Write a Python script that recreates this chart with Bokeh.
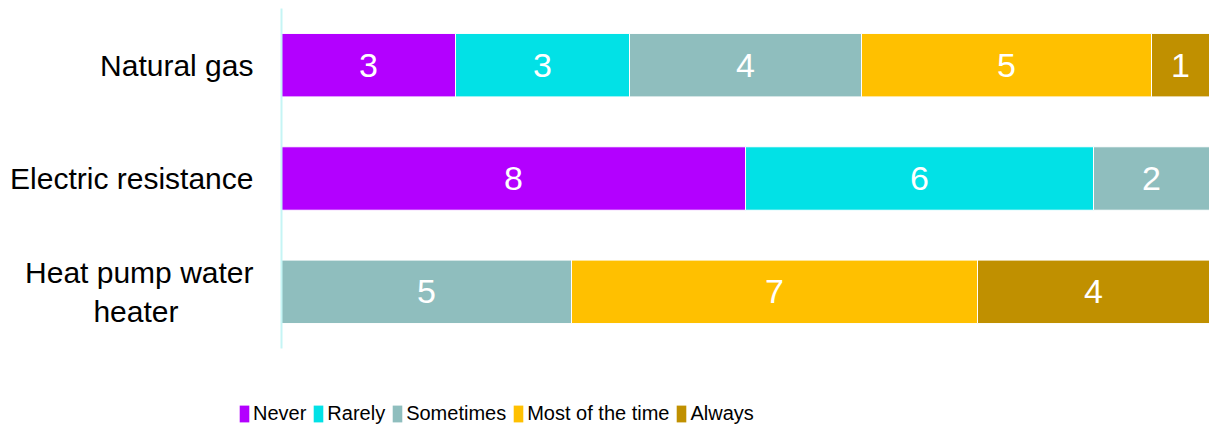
from bokeh.plotting import figure
from bokeh.models import Range1d, FactorRange, ColumnDataSource, Legend, LegendItem
from bokeh.layouts import column
from bokeh.core.properties import value
from bokeh.embed import file_html
from bokeh.resources import INLINE

categories = ["Natural gas", "Electric resistance",
              "Heat pump water\nheater\u00a0\u00a0\u00a0\u00a0\u00a0\u00a0\u00a0\u00a0\u00a0"]
series = ["Never", "Rarely", "Sometimes", "Most of the time", "Always"]
never = [3, 8, 0]
rarely = [3, 6, 0]
sometimes = [4, 2, 5]
most = [5, 0, 7]
always = [1, 0, 4]
colors = ["#b300ff", "#02e1e6", "#8fbebe", "#ffc000", "#c09000"]

values = [never, rarely, sometimes, most, always]

p = figure(width=1209, height=370, output_backend="svg", toolbar_location=None,
           x_range=Range1d(0, 16), y_range=FactorRange(*reversed(categories)),
           min_border_left=281, min_border_right=0, min_border_top=8, min_border_bottom=22)
p.outline_line_color = None
p.xgrid.visible = False
p.ygrid.visible = False
p.xaxis.visible = False

font = value("Liberation Sans")
cum = [0] * len(categories)
for name, vals, col in zip(series, values, colors):
    lefts, rights, ys, mids, txt = [], [], [], [], []
    for i, c in enumerate(categories):
        if vals[i] > 0:
            lefts.append(cum[i])
            rights.append(cum[i] + vals[i])
            mids.append(cum[i] + vals[i] / 2)
            ys.append(c)
            txt.append(str(vals[i]))
        cum[i] += vals[i]
    src = ColumnDataSource(dict(left=lefts, right=rights, y=ys, mid=mids, txt=txt))
    p.hbar(y="y", left="left", right="right", height=0.56, source=src,
           fill_color=col, line_color="white", line_width=1)
    p.text(x="mid", y="y", text="txt", source=src, text_color="white",
           text_font=font, text_font_size="34px", text_align="center",
           text_baseline="middle")

ax = p.yaxis[0]
ax.axis_line_color = "#c5f5f5"
ax.axis_line_width = 2
ax.major_tick_line_color = None
ax.minor_tick_line_color = None
ax.major_tick_out = 0
ax.major_label_standoff = 28
ax.major_label_text_font = "Liberation Sans"
ax.major_label_text_font_size = "30px"
ax.major_label_text_color = "#000000"

# legend strip (its frame is not aligned with the chart's frame)
p2 = figure(width=1209, height=65, output_backend="svg", toolbar_location=None,
            x_range=Range1d(0, 1), y_range=Range1d(0, 1),
            min_border_left=0, min_border_right=0, min_border_top=0, min_border_bottom=0)
p2.frame_align = False
p.frame_align = False
p2.outline_line_color = None
p2.xgrid.visible = False
p2.ygrid.visible = False
p2.xaxis.visible = False
p2.yaxis.visible = False
items = []
for name, col in zip(series, colors):
    # placeholder glyph outside the visible range, used only for the legend swatch
    r = p2.hbar(y=[-5], left=[-5], right=[-4], height=0.5, fill_color=col, line_color=None)
    items.append(LegendItem(label=name, renderers=[r]))
legend = Legend(items=items, orientation="horizontal", location=(238, 10),
                padding=0, margin=0, spacing=6, label_standoff=3,
                glyph_width=12, glyph_height=21,
                label_text_font="Liberation Sans", label_text_font_size="20px",
                label_text_color="#000000",
                border_line_color=None, background_fill_alpha=0)
p2.add_layout(legend, "center")

layout = column(p, p2, spacing=0)
open("out.html", "w").write(file_html(layout, INLINE))
